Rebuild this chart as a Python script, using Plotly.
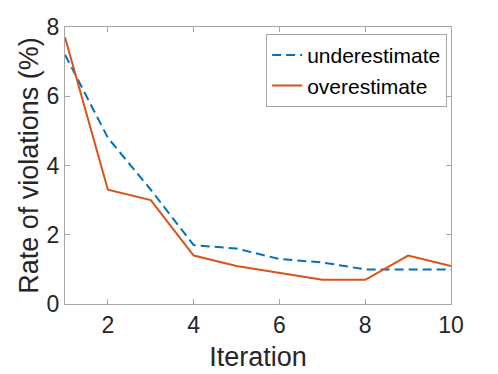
import plotly.graph_objects as go

iterations = [1, 2, 3, 4, 5, 6, 7, 8, 9, 10]
underestimate = [7.2, 4.8, 3.3, 1.7, 1.6, 1.3, 1.2, 1.0, 1.0, 1.0]
overestimate = [7.7, 3.3, 3.0, 1.4, 1.1, 0.9, 0.7, 0.7, 1.4, 1.1]

x_ticks = [2, 4, 6, 8, 10]
y_ticks = [0, 2, 4, 6, 8]

fig = go.Figure()
fig.add_trace(go.Scatter(x=iterations, y=underestimate, mode="lines", name="underestimate",
                         line=dict(color="#0072BD", width=2, dash="9px,5px")))
fig.add_trace(go.Scatter(x=iterations, y=overestimate, mode="lines", name="overestimate",
                         line=dict(color="#D95319", width=2)))

axis_style = dict(showline=True, linecolor="#a6a6a6", linewidth=1, mirror="ticks",
                  ticks="inside", ticklen=5, tickcolor="#a6a6a6", showgrid=False,
                  zeroline=False, automargin=False,
                  tickfont=dict(size=23, color="#262626"))

# page body has an 8px margin, so the figure is a bit smaller than the window
fig.update_layout(
    width=490, height=366,
    margin=dict(l=57, r=47, t=19, b=70),
    paper_bgcolor="white", plot_bgcolor="white",
    font=dict(family="Liberation Sans, Arial, sans-serif", color="#262626"),
    xaxis=dict(range=[1, 10], tickvals=x_ticks,
               title=dict(text="Iteration", font=dict(size=27), standoff=10), **axis_style),
    yaxis=dict(range=[0, 8], tickvals=y_ticks,
               title=dict(text="Rate of violations (%)", font=dict(size=27), standoff=0), **axis_style),
    legend=dict(x=0.99, y=0.975, xanchor="right", yanchor="top",
                bordercolor="#a6a6a6", borderwidth=1, bgcolor="white",
                font=dict(size=21, color="black"), tracegroupgap=0),
    showlegend=True,
)

fig.write_html("out.html")
